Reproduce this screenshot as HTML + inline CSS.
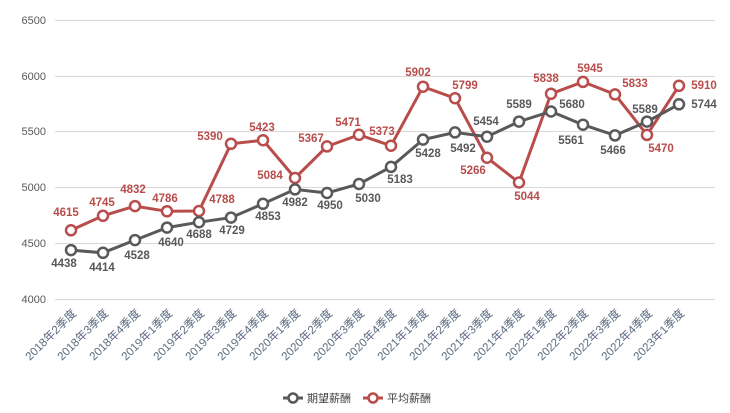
<!DOCTYPE html><html><head><meta charset="utf-8"><style>body{margin:0;background:#fff}svg{display:block}</style></head><body>
<svg width="730" height="413" xmlns="http://www.w3.org/2000/svg" font-family="Liberation Sans, Noto Sans CJK SC, sans-serif">
<g stroke="#d9d9d9" stroke-width="1">
<line x1="55" x2="715" y1="299.5" y2="299.5"/><line x1="55" x2="715" y1="243.5" y2="243.5"/><line x1="55" x2="715" y1="187.5" y2="187.5"/><line x1="55" x2="715" y1="131.5" y2="131.5"/><line x1="55" x2="715" y1="76.5" y2="76.5"/><line x1="55" x2="715" y1="20.5" y2="20.5"/></g>
<g font-size="11" fill="#595959" text-anchor="end">
<text x="46" y="303">4000</text><text x="46" y="247">4500</text><text x="46" y="191">5000</text><text x="46" y="135">5500</text><text x="46" y="80">6000</text><text x="46" y="24">6500</text></g>
<g font-size="11.5" fill="#5a6a80" text-anchor="end">
<text transform="translate(77,314) rotate(-45)">2018年2季度</text>
<text transform="translate(109,314) rotate(-45)">2018年3季度</text>
<text transform="translate(141,314) rotate(-45)">2018年4季度</text>
<text transform="translate(173,314) rotate(-45)">2019年1季度</text>
<text transform="translate(205,314) rotate(-45)">2019年2季度</text>
<text transform="translate(237,314) rotate(-45)">2019年3季度</text>
<text transform="translate(269,314) rotate(-45)">2019年4季度</text>
<text transform="translate(301,314) rotate(-45)">2020年1季度</text>
<text transform="translate(333,314) rotate(-45)">2020年2季度</text>
<text transform="translate(365,314) rotate(-45)">2020年3季度</text>
<text transform="translate(397,314) rotate(-45)">2020年4季度</text>
<text transform="translate(429,314) rotate(-45)">2021年1季度</text>
<text transform="translate(461,314) rotate(-45)">2021年2季度</text>
<text transform="translate(493,314) rotate(-45)">2021年3季度</text>
<text transform="translate(525,314) rotate(-45)">2021年4季度</text>
<text transform="translate(557,314) rotate(-45)">2022年1季度</text>
<text transform="translate(589,314) rotate(-45)">2022年2季度</text>
<text transform="translate(621,314) rotate(-45)">2022年3季度</text>
<text transform="translate(653,314) rotate(-45)">2022年4季度</text>
<text transform="translate(685,314) rotate(-45)">2023年1季度</text>
</g>
<polyline fill="none" stroke="#b84d4b" stroke-width="3" points="71,230.3 103,215.8 135,206.1 167,211.3 199,211 231,143.8 263,140.2 295,178 327,146.4 359,134.8 391,145.7 423,86.7 455,98.2 487,157.7 519,182.5 551,93.8 583,81.9 615,94.4 647,134.9 679,85.8"/>
<g fill="#fff" stroke="#b84d4b" stroke-width="2.5">
<circle cx="71" cy="230.3" r="5"/><circle cx="103" cy="215.8" r="5"/><circle cx="135" cy="206.1" r="5"/><circle cx="167" cy="211.3" r="5"/><circle cx="199" cy="211" r="5"/><circle cx="231" cy="143.8" r="5"/><circle cx="263" cy="140.2" r="5"/><circle cx="295" cy="178" r="5"/><circle cx="327" cy="146.4" r="5"/><circle cx="359" cy="134.8" r="5"/><circle cx="391" cy="145.7" r="5"/><circle cx="423" cy="86.7" r="5"/><circle cx="455" cy="98.2" r="5"/><circle cx="487" cy="157.7" r="5"/><circle cx="519" cy="182.5" r="5"/><circle cx="551" cy="93.8" r="5"/><circle cx="583" cy="81.9" r="5"/><circle cx="615" cy="94.4" r="5"/><circle cx="647" cy="134.9" r="5"/><circle cx="679" cy="85.8" r="5"/></g>
<g font-size="11.5" font-weight="bold" fill="#b84d4b" text-anchor="middle">
<text x="66" y="216">4615</text><text x="102" y="206">4745</text><text x="133" y="193">4832</text><text x="165" y="202">4786</text><text x="222" y="203">4788</text><text x="210" y="140">5390</text><text x="262" y="131">5423</text><text x="270" y="179">5084</text><text x="311" y="142">5367</text><text x="348" y="126">5471</text><text x="382" y="135">5373</text><text x="418" y="76">5902</text><text x="465" y="89">5799</text><text x="473" y="174">5266</text><text x="527" y="200">5044</text><text x="546" y="82">5838</text><text x="590" y="72">5945</text><text x="635" y="87">5833</text><text x="661" y="152">5470</text><text x="704" y="89">5910</text></g>
<polyline fill="none" stroke="#595959" stroke-width="3" points="71,250.1 103,252.8 135,240.1 167,227.6 199,222.2 231,217.6 263,203.8 295,189.4 327,193 359,184 391,166.9 423,139.6 455,132.4 487,136.7 519,121.6 551,111.5 583,124.7 615,135.4 647,121.6 679,104.3"/>
<g fill="#fff" stroke="#595959" stroke-width="2.5">
<circle cx="71" cy="250.1" r="5"/><circle cx="103" cy="252.8" r="5"/><circle cx="135" cy="240.1" r="5"/><circle cx="167" cy="227.6" r="5"/><circle cx="199" cy="222.2" r="5"/><circle cx="231" cy="217.6" r="5"/><circle cx="263" cy="203.8" r="5"/><circle cx="295" cy="189.4" r="5"/><circle cx="327" cy="193" r="5"/><circle cx="359" cy="184" r="5"/><circle cx="391" cy="166.9" r="5"/><circle cx="423" cy="139.6" r="5"/><circle cx="455" cy="132.4" r="5"/><circle cx="487" cy="136.7" r="5"/><circle cx="519" cy="121.6" r="5"/><circle cx="551" cy="111.5" r="5"/><circle cx="583" cy="124.7" r="5"/><circle cx="615" cy="135.4" r="5"/><circle cx="647" cy="121.6" r="5"/><circle cx="679" cy="104.3" r="5"/></g>
<g font-size="11.5" font-weight="bold" fill="#595959" text-anchor="middle">
<text x="64" y="267">4438</text><text x="102" y="271">4414</text><text x="137" y="259">4528</text><text x="171" y="246">4640</text><text x="199" y="238">4688</text><text x="232" y="234">4729</text><text x="268" y="220">4853</text><text x="295" y="206">4982</text><text x="330" y="209">4950</text><text x="368" y="202">5030</text><text x="400" y="183">5183</text><text x="428" y="157">5428</text><text x="463" y="152">5492</text><text x="486" y="125">5454</text><text x="519" y="108">5589</text><text x="572" y="108">5680</text><text x="571" y="144">5561</text><text x="613" y="154">5466</text><text x="645" y="113">5589</text><text x="704" y="108">5744</text></g>
<g font-size="11" fill="#404040"><line x1="283" x2="303" y1="398" y2="398" stroke="#595959" stroke-width="3"/><circle cx="293" cy="398" r="4.5" fill="#fff" stroke="#595959" stroke-width="2.5"/><text x="307" y="402">期望薪酬</text>
<line x1="363" x2="383" y1="398" y2="398" stroke="#b84d4b" stroke-width="3"/><circle cx="373" cy="398" r="4.5" fill="#fff" stroke="#b84d4b" stroke-width="2.5"/><text x="387" y="402">平均薪酬</text></g>
</svg></body></html>
